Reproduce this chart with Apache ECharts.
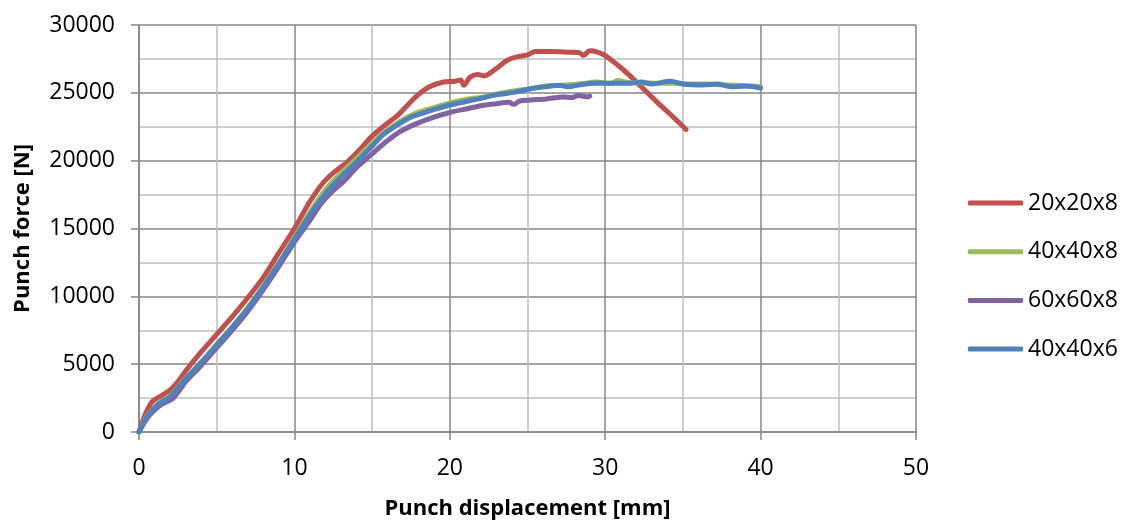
<!DOCTYPE html>
<html>
<head>
<meta charset="utf-8">
<script src="https://cdn.jsdelivr.net/npm/echarts@6/dist/echarts.min.js"></script>
<style>html,body{margin:0;padding:0;background:#fff}#c{width:1123px;height:520px}</style>
</head>
<body>
<div id="c"></div>
<script>
const seriesNames = ['20x20x8', '40x40x8', '60x60x8', '40x40x6'];
const xTickLabels = ['0', '10', '20', '30', '40', '50'];
const yTickLabels = ['0', '5000', '10000', '15000', '20000', '25000', '30000'];

const s20x20x8 = [[0,0],[0.3,1000],[0.6,1800],[0.9,2300],[1.4,2650],[2.0,3100],[2.5,3700],[3,4500],[4,5900],[5,7200],[6,8500],[7,9900],[8,11400],[9,13200],[10,15000],[10.5,16000],[11,17000],[11.8,18300],[12.5,19100],[13.4,19900],[14.2,20800],[14.9,21700],[15.7,22500],[16.6,23300],[17.2,24000],[17.9,24800],[18.7,25450],[19.6,25800],[20.3,25850],[20.7,25950],[20.9,25550],[21.3,26150],[21.8,26350],[22.2,26250],[23.0,26800],[23.7,27400],[24.3,27650],[25.0,27800],[25.5,28050],[26.5,28050],[27.5,28000],[28.3,27980],[28.6,27750],[29.0,28100],[29.5,28000],[30.0,27750],[30.8,27050],[31.6,26250],[32.5,25250],[33.3,24350],[34.2,23400],[34.9,22650],[35.2,22300]];
const s40x40x8 = [[0,0],[0.3,750],[0.7,1450],[1.3,2150],[2.0,2650],[3,3950],[4,5150],[5,6450],[6,7750],[7,9150],[8,10750],[9,12450],[10,14300],[11,16200],[11.7,17400],[12.4,18400],[13.2,19300],[14.0,20150],[15.0,21300],[15.8,22100],[16.6,22750],[17.6,23400],[18.8,23850],[20.0,24250],[21.2,24550],[22.2,24700],[23.2,24950],[24.2,25150],[25.2,25300],[26.2,25500],[27.1,25550],[28.3,25650],[29.4,25800],[30.4,25700],[30.8,25900],[31.6,25750],[32.4,25750],[33.4,25700],[34.4,25700],[35.4,25650],[36.4,25650],[37.4,25600],[38.4,25550],[39.4,25500],[40.0,25450]];
const s60x60x8 = [[0,0],[0.4,800],[0.8,1400],[1.4,2000],[2.2,2500],[3,3700],[4,4900],[5,6200],[6,7500],[7,8900],[8,10500],[9,12200],[10,14000],[11,15600],[11.7,16800],[12.5,17800],[13.2,18500],[14.0,19500],[14.9,20400],[15.8,21300],[16.6,22000],[17.6,22600],[18.7,23100],[20.0,23550],[21.2,23850],[22.0,24050],[23.0,24200],[23.8,24300],[24.1,24150],[24.5,24400],[25.2,24470],[26.2,24550],[27.3,24700],[27.8,24650],[28.3,24800],[28.9,24700],[29.0,24750]];
const s40x40x6 = [[0,0],[0.3,700],[0.7,1400],[1.3,2100],[2.0,2600],[3,3900],[4,5100],[5,6400],[6,7700],[7,9100],[8,10700],[9,12400],[10,14200],[11,16000],[11.7,17100],[12.3,17950],[13.1,18900],[14.0,19900],[15.1,21200],[15.7,21900],[16.5,22550],[17.6,23250],[18.8,23700],[20.0,24100],[21.2,24400],[22.0,24600],[23.0,24850],[24.2,25050],[25.2,25300],[26.2,25450],[27.1,25550],[27.6,25450],[28.4,25600],[29.4,25700],[30.5,25700],[31.6,25700],[32.3,25800],[33.0,25650],[34.2,25850],[35.0,25650],[36.3,25580],[37.2,25650],[38.1,25450],[39.0,25500],[40.0,25350]];

const seriesData = [s20x20x8, s40x40x8, s60x60x8, s40x40x6];
const colors = ['#C0504D', '#9BBB59', '#8064A2', '#4F81BD'];
const FONT = 'Open Sans';

const chart = echarts.init(document.getElementById('c'));
chart.setOption({
  animation: false,
  backgroundColor: '#fff',
  textStyle: { fontFamily: FONT },
  grid: { left: 139, right: 207, top: 25, bottom: 88, containLabel: false, outerBoundsMode: 'none' },
  legend: {
    orient: 'vertical',
    left: 968, top: 191, padding: 0,
    icon: 'roundRect',
    itemWidth: 55, itemHeight: 5, itemGap: 24.7,
    textStyle: { fontFamily: FONT, fontSize: 23, color: '#000', lineHeight: 24 },
    data: seriesNames.map((n, i) => ({ name: n, itemStyle: { color: colors[i] } }))
  },
  xAxis: {
    type: 'value', min: 0, max: 50, interval: 10,
    name: 'Punch displacement [mm]', nameLocation: 'middle', nameGap: 66,
    nameTextStyle: { fontFamily: FONT, fontSize: 22, fontWeight: 'bold', color: '#000' },
    axisLine: { show: true, lineStyle: { color: '#868686', width: 1.5 } },
    axisTick: { show: true, length: 8, lineStyle: { color: '#868686', width: 1.5 } },
    axisLabel: { fontFamily: FONT, fontSize: 23, color: '#000', margin: 25,
      formatter: (v) => xTickLabels[Math.round(v / 10)] },
    splitLine: { show: true, lineStyle: { color: '#868686', width: 1.5 } },
    minorTick: { show: false, splitNumber: 2 },
    minorSplitLine: { show: true, lineStyle: { color: '#BEBEBE', width: 1.5 } }
  },
  yAxis: {
    type: 'value', min: 0, max: 30000, interval: 5000,
    name: 'Punch force [N]', nameLocation: 'middle', nameGap: 105, nameRotate: 90,
    nameTextStyle: { fontFamily: FONT, fontSize: 22, fontWeight: 'bold', color: '#000' },
    axisLine: { show: true, lineStyle: { color: '#868686', width: 1.5 } },
    axisTick: { show: true, length: 8, lineStyle: { color: '#868686', width: 1.5 } },
    axisLabel: { fontFamily: FONT, fontSize: 23, color: '#000', margin: 24,
      formatter: (v) => yTickLabels[Math.round(v / 5000)] },
    splitLine: { show: true, lineStyle: { color: '#868686', width: 1.5 } },
    minorTick: { show: false, splitNumber: 2 },
    minorSplitLine: { show: true, lineStyle: { color: '#BEBEBE', width: 1.5 } }
  },
  series: seriesNames.map((n, i) => ({
    name: n, type: 'line', data: seriesData[i],
    showSymbol: false, symbol: 'none', smooth: 0.3,
    lineStyle: { color: colors[i], width: 5, cap: 'round', join: 'round' },
    itemStyle: { color: colors[i] }, z: 2 + i
  }))
});
</script>
</body>
</html>
